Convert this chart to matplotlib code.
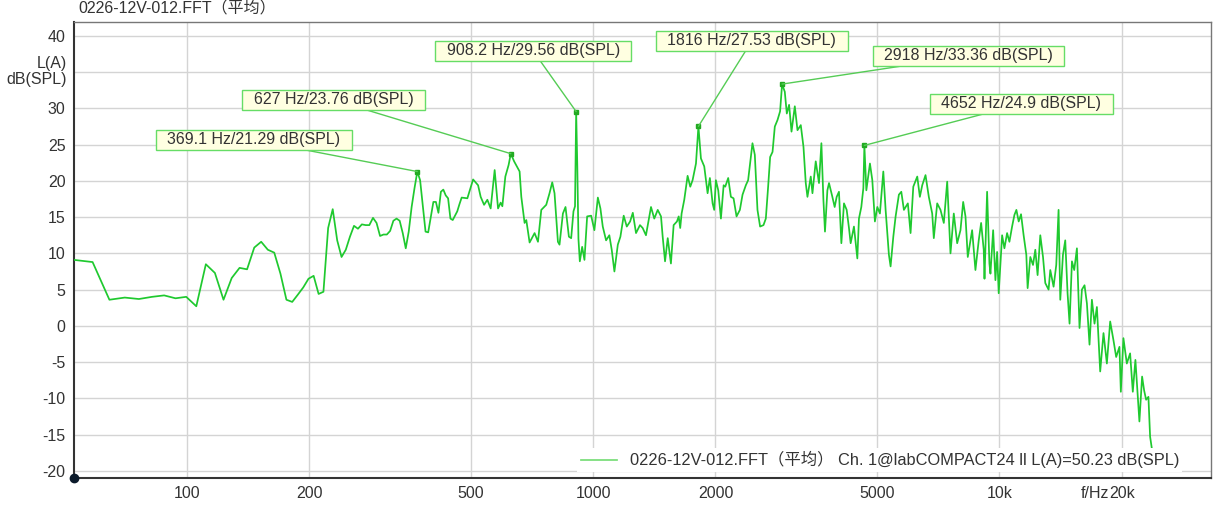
import matplotlib
matplotlib.use('Agg')
import matplotlib.pyplot as plt
import matplotlib.transforms as mtransforms

plt.rcParams['font.family'] = ['Liberation Sans', 'Noto Sans CJK SC', 'DejaVu Sans']

# spectrum (Hz / dB(SPL))
freq_hz = [
    52.73, 58.59, 64.45, 70.31, 76.17, 82.03, 87.89, 93.75, 99.61, 105.47,
    111.33, 117.19, 123.05, 128.91, 134.77, 140.63, 146.48, 152.34, 158.20, 164.06,
    169.92, 175.78, 181.64, 187.50, 193.36, 199.22, 205.08, 210.94, 216.80, 222.66,
    228.52, 234.38, 240.23, 246.09, 251.95, 257.81, 263.67, 269.53, 275.39, 281.25,
    287.11, 292.97, 298.83, 304.69, 310.55, 316.41, 322.27, 328.13, 333.98, 339.84,
    345.70, 351.56, 357.42, 363.28, 369.14, 375.00, 380.86, 386.72, 392.58, 398.44,
    404.30, 410.16, 416.02, 421.88, 427.73, 433.59, 439.45, 445.31, 451.17, 457.03,
    462.89, 468.75, 474.61,
    490.2, 506.4, 520.9, 528.6, 538.9, 549.0, 559.4, 572.2, 583.3, 591.9,
    597.7, 607.9, 619.3, 627.0, 638.9, 659.1, 665.5, 678.0, 684.6, 697.5,
    717.5, 731.4, 745.3, 766.5, 780.9, 793.0, 803.4, 818.9, 826.4, 842.4,
    855.0, 871.5, 882.9, 894.4, 902.3, 908.2, 914.1, 920.0, 927.2, 939.6,
    951.9, 966.5, 988.7, 1007, 1027, 1042, 1056, 1076, 1096, 1111,
    1128, 1150, 1167, 1189, 1210, 1233, 1252, 1275, 1304, 1324,
    1349, 1388, 1414, 1442, 1469, 1483, 1503, 1526, 1554, 1578,
    1608, 1624, 1638, 1651, 1676, 1708, 1734, 1757, 1791, 1816,
    1842, 1877, 1913, 1938, 1968, 1986, 2005, 2032, 2063, 2095,
    2114, 2150, 2183, 2216, 2254, 2297, 2332, 2376, 2407, 2467,
    2500, 2538, 2576, 2626, 2661, 2696, 2727, 2764, 2800, 2843,
    2885, 2918, 2963, 2997, 3036, 3078, 3136, 3184, 3244, 3294,
    3337, 3369, 3433, 3466, 3531, 3597, 3646, 3688, 3721, 3772,
    3807, 3880, 3931, 3976, 4028, 4083, 4144, 4208, 4263, 4304,
    4385, 4470, 4511, 4572, 4625, 4652, 4704, 4801, 4866, 4938,
    5006, 5080, 5179, 5247, 5346, 5397, 5481, 5553, 5657, 5735,
    5820, 5952, 6044, 6138, 6278, 6371, 6457, 6579, 6703, 6833,
    6895, 7029, 7162, 7297, 7439, 7579, 7722, 7872, 8020, 8144,
    8251, 8359, 8568, 8730, 8895, 9016, 9150, 9190, 9327, 9450, 9505,
    9652, 9777, 9872, 9961, 10155, 10288, 10446, 10584, 10746, 10888,
    11011, 11156, 11305, 11472, 11649, 11735, 11915, 12098, 12257, 12417,
    12609, 12804, 12971, 13215, 13343, 13595, 13803, 13985, 14120, 14337,
    14525, 14716, 14883, 15086, 15283, 15518, 15748, 15963, 16202, 16421,
    16666, 16893, 17145, 17378, 17706, 18040, 18389, 18737, 19091, 19385,
    19747, 19904, 20197, 20590, 20978, 21300, 21617, 22112, 22453, 22710,
    22970, 23271, 23496, 23723,
]
level_db = [
    9.1, 8.8, 3.6, 3.9, 3.7, 4.0, 4.2, 3.8, 4.0, 2.7,
    8.5, 7.3, 3.6, 6.6, 8.0, 7.8, 10.8, 11.6, 10.5, 10.1,
    7.2, 3.6, 3.3, 4.3, 5.3, 6.5, 6.9, 4.4, 4.7, 13.5,
    16.1, 11.8, 9.5, 10.5, 12.3, 13.8, 13.4, 14.0, 13.9, 13.9,
    14.9, 14.2, 12.4, 12.6, 12.6, 13.1, 14.5, 14.8, 14.5, 12.8,
    10.7, 13.0, 16.4, 19.0, 21.29, 20.1, 16.5, 13.0, 12.9, 15.0,
    17.1, 17.1, 15.6, 18.5, 18.8, 18.0, 17.6, 14.8, 14.6, 15.2,
    15.8, 16.8, 17.7,
    17.6, 20.2, 19.4, 17.8, 16.7, 17.4, 16.2, 21.5, 16.2, 17.0,
    16.5, 20.6, 22.2, 23.76, 22.7, 21.3, 17.8, 14.2, 14.6, 11.5,
    12.8, 11.6, 16.0, 16.7, 18.3, 19.8, 18.3, 11.6, 11.2, 15.5,
    16.4, 12.3, 12.1, 15.8, 16.5, 29.56, 22.0, 12.0, 8.9, 10.9,
    9.1, 15.1, 15.2, 13.2, 17.7, 16.2, 13.7, 11.8, 12.5, 10.5,
    7.5, 11.2, 12.3, 15.2, 13.7, 14.4, 15.6, 12.8, 13.9, 13.5,
    12.5, 16.4, 14.8, 16.0, 15.1, 12.3, 8.9, 12.1, 8.6, 13.9,
    14.4, 15.1, 13.5, 15.5, 17.4, 20.7, 19.2, 20.1, 22.4, 27.53,
    23.1, 22.0, 18.3, 20.4, 16.9, 16.0, 20.1, 18.7, 14.8, 19.4,
    19.2, 20.4, 17.8, 17.6, 15.1, 16.0, 18.1, 19.4, 20.1, 25.2,
    23.6, 16.0, 13.7, 13.9, 14.8, 19.2, 23.3, 24.0, 27.5, 28.4,
    29.6, 33.36, 32.3, 29.3, 30.5, 26.8, 30.3, 27.0, 27.7, 24.7,
    19.7, 17.8, 20.6, 18.3, 22.7, 19.7, 25.2, 17.4, 13.0, 18.7,
    19.7, 17.8, 16.4, 17.8, 18.5, 11.4, 16.9, 16.0, 13.5, 11.4,
    13.7, 9.3, 14.8, 16.4, 19.0, 24.9, 18.7, 22.4, 20.1, 14.4,
    16.4, 15.5, 21.3, 16.0, 9.8, 8.2, 12.3, 15.1, 18.1, 18.5,
    16.0, 16.9, 12.8, 19.2, 20.6, 17.8, 19.4, 20.8, 17.8, 15.5,
    12.1, 16.9, 16.0, 14.2, 19.9, 10.0, 15.5, 11.4, 13.2, 17.1,
    15.1, 9.5, 13.2, 7.7, 11.8, 14.2, 10.5, 6.5, 18.5, 8.6, 7.2,
    13.2, 6.3, 10.2, 4.5, 12.5, 10.7, 12.8, 11.6, 13.7, 15.3,
    16.0, 14.4, 15.4, 12.5, 9.8, 5.2, 9.5, 8.4, 10.5, 7.0,
    12.5, 9.5, 5.9, 5.0, 7.7, 5.4, 8.4, 16.0, 3.6, 9.8,
    11.8, 4.5, 0.3, 8.9, 7.7, 10.7, -0.3, 5.0, 5.6, 3.1,
    -2.6, 3.6, 0.3, 2.6, -6.3, -1.0, -5.2, 0.6, -2.0, -4.3,
    -2.9, -9.1, -1.7, -5.2, -3.8, -9.1, -4.7, -13.2, -7.0, -8.9,
    -10.2, -9.8, -15.3, -16.9,
]

peak_freq = [369.1, 627, 908.2, 1816, 2918, 4652]
peak_db = [21.29, 23.76, 29.56, 27.53, 33.36, 24.9]
peak_labels = ['369.1 Hz/21.29 dB(SPL)', '627 Hz/23.76 dB(SPL)', '908.2 Hz/29.56 dB(SPL)',
               '1816 Hz/27.53 dB(SPL)', '2918 Hz/33.36 dB(SPL)', '4652 Hz/24.9 dB(SPL)']
# where the label boxes sit (centre, data coords)
label_pos = [(146, 25.65), (229.7, 31.17), (712, 37.93), (2458, 39.31), (8390, 37.24), (11325, 30.62)]

xticks = [100, 200, 500, 1000, 2000, 5000, 10000, 20000]
xtick_labels = ['100', '200', '500', '1000', '2000', '5000', '10k', '20k']
yticks = [-20, -15, -10, -5, 0, 5, 10, 15, 20, 25, 30, 35, 40]
ytick_labels = ['-20', '-15', '-10', '-5', '0', '5', '10', '15', '20', '25', '30', '', '40']

title = '0226-12V-012.FFT（平均）'
legend_text = '0226-12V-012.FFT（平均） Ch. 1@labCOMPACT24 ll L(A)=50.23 dB(SPL)'

line_col = '#1fc92f'
txt_col = '#333333'
fs = 11.5

fig = plt.figure(figsize=(12.23, 5.13), dpi=100)
ax = fig.add_axes([74 / 1223, 1 - 478 / 513, (1211 - 74) / 1223, (478 - 22) / 513])

ax.plot(freq_hz, level_db, color=line_col, lw=1.25, label=legend_text, zorder=3)
ax.plot(peak_freq, peak_db, 's', ms=3, color='#22aa22', zorder=4)

for f, d, s, pos in zip(peak_freq, peak_db, peak_labels, label_pos):
    ax.annotate('  ' + s + '  ', xy=(f, d), xytext=pos, textcoords='data',
                ha='center', va='center', fontsize=fs, color=txt_col, zorder=5,
                bbox=dict(boxstyle='square,pad=0.15', fc='#ffffe1', ec='#66dd66', lw=1),
                arrowprops=dict(arrowstyle='-', color='#55cc55', lw=1,
                                shrinkA=0, shrinkB=0))

ax.set_xscale('log')
ax.set_xlim(52.73, 33180)
ax.set_ylim(-21, 41.93)
ax.set_xticks(xticks)
ax.set_xticklabels(xtick_labels)
ax.minorticks_off()
ax.set_yticks(yticks)
ax.set_yticklabels(ytick_labels)
ax.tick_params(length=0, pad=6, labelsize=fs, colors=txt_col)
ax.grid(True, color='#d4d4d4', lw=1)
ax.set_axisbelow(True)

for side in ['left', 'bottom']:
    ax.spines[side].set_color('#333333')
    ax.spines[side].set_linewidth(1.5)
for side in ['top', 'right']:
    ax.spines[side].set_color('#777777')
    ax.spines[side].set_linewidth(1)

# little dot at the origin corner
ax.plot([0], [0], 'o', ms=6, color='#0b1a2b', transform=ax.transAxes, clip_on=False, zorder=6)

# y-axis unit label in place of the 35 tick
trans_y = mtransforms.blended_transform_factory(ax.transAxes, ax.transData)
ax.text(-0.006, 35.1, 'L(A)\ndB(SPL)', transform=trans_y, ha='right', va='center',
        ma='right', fontsize=fs, color=txt_col, linespacing=1.05)

# x-axis unit label next to 20k
trans_x = mtransforms.blended_transform_factory(ax.transData, ax.transAxes)
ax.annotate('f/Hz', xy=(17200, 0), xycoords=trans_x, xytext=(0, -6), textcoords='offset points',
            ha='center', va='top', fontsize=fs, color=txt_col)

fig.text(78 / 1223, 1 - 9 / 513, title, ha='left', va='center', fontsize=fs, color=txt_col)

leg = ax.legend(loc='center right', bbox_to_anchor=(0.982, 0.040), fontsize=11.8,
                frameon=True, fancybox=False, framealpha=1, facecolor='white',
                edgecolor='none', handlelength=2.2, handletextpad=0.8, borderpad=0.2)
for t in leg.get_texts():
    t.set_color(txt_col)
leg.get_lines()[0].set_color('#77dd77')

fig.savefig('out.png', dpi=100)
